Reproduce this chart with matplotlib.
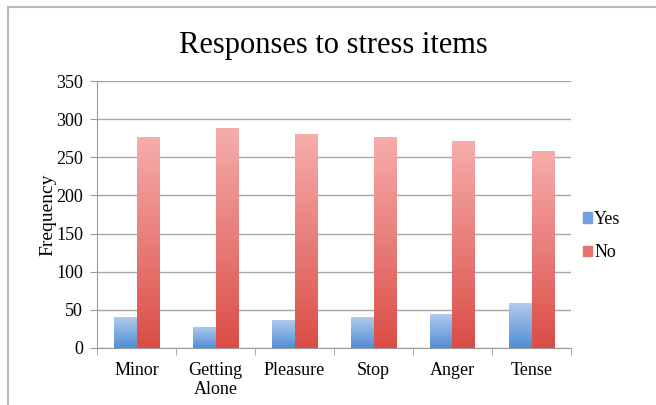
import matplotlib.pyplot as plt
import numpy as np
from matplotlib.colors import LinearSegmentedColormap
from matplotlib.patches import Patch
from matplotlib.lines import Line2D

# data
items = ['Minor', 'Getting\nAlone', 'Pleasure', 'Stop', 'Anger', 'Tense']
yes = [41, 28, 37, 41, 45, 59]
no = [276, 289, 280, 276, 272, 258]

plt.rcParams['font.family'] = ['Liberation Serif', 'DejaVu Serif']

fig = plt.figure(figsize=(6.56, 4.05), dpi=100)
ax = fig.add_axes([97 / 656, 57 / 405, 474 / 656, 267 / 405])

x = np.arange(len(items))
w = 0.28
blue_bars = ax.bar(x - w / 2, yes, w, color='none', zorder=3)
red_bars = ax.bar(x + w / 2, no, w, color='none', zorder=3)

blue_cmap = LinearSegmentedColormap.from_list('b', ['#4f8ed5', '#b3cced'])
red_cmap = LinearSegmentedColormap.from_list('r', ['#db4d46', '#f6adac'])
grad = np.linspace(0, 1, 256).reshape(-1, 1)

# gradient fill clipped to each bar
for bars, cmap in [(blue_bars, blue_cmap), (red_bars, red_cmap)]:
    for b in bars:
        bx, by = b.get_x(), b.get_y()
        bw, bh = b.get_width(), b.get_height()
        im = ax.imshow(grad, cmap=cmap, origin='lower', aspect='auto',
                       extent=[bx, bx + bw, by, by + bh], zorder=3)
        im.set_clip_path(b)

ax.set_xlim(-0.5, len(items) - 0.5)
ax.set_ylim(0, 350)
ax.set_yticks(np.arange(0, 351, 50))
ax.set_xticks(x)
ax.set_xticklabels(items, fontsize=13, linespacing=1.15)
ax.set_xticks(np.arange(-0.5, len(items)), minor=True)
ax.tick_params(axis='x', which='major', length=0, pad=10)
ax.tick_params(axis='x', which='minor', length=5, color='#9a9a9a')
ax.tick_params(axis='y', length=5, color='#9a9a9a', labelsize=13, pad=5)
ax.grid(axis='y', color='#a6a6a6', linewidth=1, zorder=0)

for s in ['top', 'right']:
    ax.spines[s].set_visible(False)
for s in ['left', 'bottom']:
    ax.spines[s].set_color('#9a9a9a')

ax.set_ylabel('Frequency', fontsize=14, labelpad=0)
fig.text(333 / 656, 1 - 46 / 405, 'Responses to stress items', fontsize=22,
         ha='center', va='center')

handles = [Patch(color='#6fa2de', label='Yes'), Patch(color='#e87370', label='No')]
fig.legend(handles=handles, loc='center left', bbox_to_anchor=(567 / 656, 1 - 236 / 405),
           frameon=False, handlelength=0.5, handleheight=0.5, handletextpad=0.1,
           labelspacing=0.9, fontsize=13)

# outer chart border (left and top edges)
fig.add_artist(Line2D([8 / 656, 8 / 656], [0, 1 - 7 / 405], color='#b8b8b8', lw=1.5))
fig.add_artist(Line2D([8 / 656, 1], [1 - 7 / 405, 1 - 7 / 405], color='#b8b8b8', lw=1.5))

fig.savefig('out.png', dpi=100)
